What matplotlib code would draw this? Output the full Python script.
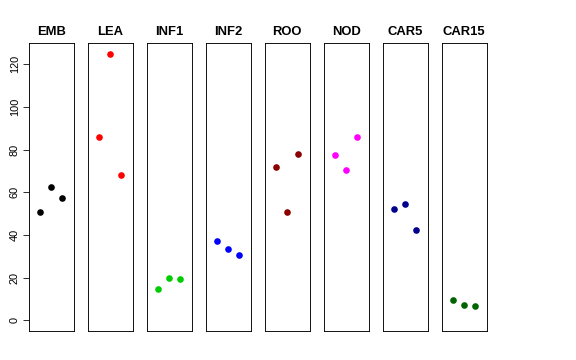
import matplotlib
matplotlib.use("Agg")
import matplotlib.pyplot as plt

plt.rcParams['font.family'] = ['Liberation Sans', 'DejaVu Sans']

groups = ["EMB", "LEA", "INF1", "INF2", "ROO", "NOD", "CAR5", "CAR15"]
values = {
    "EMB": [50.6, 62.7, 57.3],
    "LEA": [85.9, 124.8, 68.3],
    "INF1": [14.5, 20.0, 19.2],
    "INF2": [37.0, 33.4, 30.8],
    "ROO": [72.0, 51.0, 78.0],
    "NOD": [77.7, 70.5, 85.9],
    "CAR5": [52.0, 54.4, 42.2],
    "CAR15": [9.5, 7.2, 6.9],
}
colors = ["#000000", "#FF0000", "#00CD00", "#0000FF", "#8B0000", "#FF00FF", "#00008B", "#006400"]
yticks = [0, 20, 40, 60, 80, 100, 120]

W, H = 576, 360
fig = plt.figure(figsize=(W / 72, H / 72), dpi=72)

lefts = [29, 88, 147, 206, 265, 324, 383, 442]
pw = 44.5
top, bottom = 43, 331

for i, g in enumerate(groups):
    ax = fig.add_axes([lefts[i] / W, 1 - bottom / H, pw / W, (bottom - top) / H])
    ax.scatter([1, 2, 3], values[g], color=colors[i], s=44, linewidths=0, zorder=3)
    ax.set_xlim(0, 4)
    ax.set_ylim(-5, 130)
    ax.set_xticks([])
    for sp in ax.spines.values():
        sp.set_linewidth(0.9)
        sp.set_color("black")
    ax.set_title(g, fontsize=13, fontweight="bold", pad=8)
    if i == 0:
        ax.set_yticks(yticks)
        ax.set_yticklabels([str(t) for t in yticks], rotation=90, va="center", fontsize=11)
        ax.tick_params(axis="y", length=6, width=0.8, pad=3)
    else:
        ax.set_yticks([])

fig.savefig("out.png", dpi=72)
